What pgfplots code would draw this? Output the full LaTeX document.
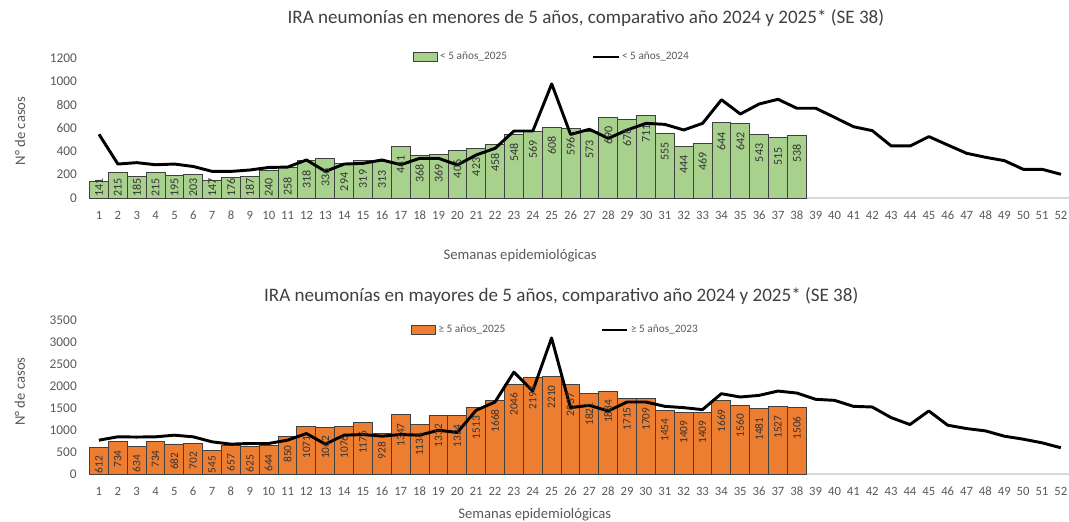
\documentclass[border=0pt]{standalone}
\usepackage{fontspec}
\setmainfont{Carlito}
\usepackage{pgfplots}
\pgfplotsset{compat=1.18}
\usepackage{pgfplotstable}

\definecolor{verde}{HTML}{A9D18E}
\definecolor{naranja}{HTML}{ED7D31}
\definecolor{texto}{HTML}{595959}
\definecolor{titulo}{HTML}{404040}
\definecolor{ejex}{HTML}{D9D9D9}

% < 5 años
\pgfplotstableread{
sem casos
1 141
2 215
3 185
4 215
5 195
6 203
7 147
8 176
9 187
10 240
11 258
12 318
13 336
14 294
15 319
16 313
17 441
18 368
19 369
20 406
21 423
22 458
23 548
24 569
25 608
26 596
27 573
28 690
29 676
30 711
31 555
32 444
33 469
34 644
35 642
36 543
37 515
38 538
}\menoresA

\pgfplotstableread{
sem casos
1 546
2 291
3 303
4 285
5 291
6 270
7 228
8 228
9 240
10 262
11 265
12 326
13 228
14 291
15 297
16 326
17 285
18 340
19 340
20 283
21 369
22 426
23 574
24 574
25 978
26 545
27 589
28 511
29 583
30 640
31 631
32 583
33 640
34 842
35 720
36 806
37 846
38 769
39 769
40 691
41 611
42 577
43 446
44 446
45 526
46 454
47 383
48 349
49 320
50 246
51 246
52 203
}\menoresB

% >= 5 años
\pgfplotstableread{
sem casos
1 612
2 734
3 634
4 734
5 682
6 702
7 545
8 657
9 625
10 644
11 850
12 1071
13 1062
14 1076
15 1176
16 928
17 1347
18 1134
19 1332
20 1324
21 1513
22 1668
23 2046
24 2194
25 2210
26 2037
27 1821
28 1884
29 1715
30 1709
31 1454
32 1409
33 1409
34 1669
35 1560
36 1481
37 1527
38 1506
}\mayoresA

\pgfplotstableread{
sem casos
1 769
2 845
3 840
4 845
5 882
6 845
7 731
8 679
9 694
10 694
11 769
12 920
13 679
14 882
15 897
16 860
17 897
18 882
19 995
20 943
21 1448
22 1636
23 2315
24 1885
25 3092
26 1508
27 1561
28 1433
29 1636
30 1636
31 1538
32 1508
33 1463
34 1825
35 1750
36 1787
37 1885
38 1840
39 1697
40 1674
41 1538
42 1523
43 1282
44 1124
45 1433
46 1109
47 1033
48 980
49 860
50 792
51 709
52 596
}\mayoresB

\pgfplotsset{
  semanas/.style={
    scale only axis,
    anchor=south west,
    xmin=0.5, xmax=52.5,
    ymin=0,
    xtick={1,...,52},
    axis x line*=bottom,
    axis y line*=left,
    x axis line style={draw=ejex, line width=0.8pt, -},
    y axis line style={draw=none},
    major tick length=0pt,
    /pgf/number format/assume math mode=true,
    /pgf/number format/1000 sep={},
    xticklabel style={font=\fontsize{9.5}{11}\selectfont, text=texto, anchor=base, yshift=-16pt},
    yticklabel style={font=\fontsize{10}{12}\selectfont, text=texto, xshift=-6pt},
    xlabel={Semanas epidemiológicas},
    ylabel={N° de casos},
    label style={font=\fontsize{11}{13}\selectfont, text=texto},
    title style={font=\fontsize{14.3}{17}\selectfont, text=titulo, anchor=center},
    legend cell align=left,
    legend columns=2,
    legend style={draw=none, fill=none, inner sep=0pt, anchor=west,
      font=\fontsize{8.5}{10}\selectfont, text=texto,
      nodes={inner sep=1.5pt}},
    clip=false,
  },
  barras/.style={
    ybar, bar width=1, draw=black!75, line width=0.7pt,
    nodes near coords,
    point meta=explicit symbolic,
    visualization depends on={y \as \rawy},
    legend image code/.code={\draw[##1] (0pt,-3.5pt) rectangle (18pt,3.5pt);},
  },
  linea/.style={
    black, line width=2.2pt, line join=round, mark=none,
    legend image code/.code={\draw[##1] (0pt,0pt) -- (19pt,0pt);},
  },
}

\begin{document}
\begin{tikzpicture}
\useasboundingbox (0,0) rectangle (801.75pt,390.75pt);

% Arriba: menores de 5 años
\begin{axis}[
  semanas,
  at={(67.2pt,242.25pt)},
  width=735.6pt, height=105pt,
  ymax=1200, ytick={0,200,...,1200},
  title={IRA neumonías en menores de 5 años, comparativo año 2024 y 2025* (SE 38)},
  title style={at={(axis description cs:0.506,1.229)}},
  xlabel style={at={(axis description cs:0.439,-0.41)}, anchor=center},
  ylabel style={at={(axis description cs:-0.071,0.479)}, anchor=center, rotate=0},
  legend style={at={(axis description cs:0.3297,1.007)},
    /tikz/every even column/.append style={column sep=62pt}},
]
\addplot[barras, fill=verde,
  nodes near coords style={font=\fontsize{9}{10}\selectfont, text=black!80, inner sep=0pt,
    yshift={max(-6.5,15-\rawy*0.0875)*1pt}, rotate=90, anchor=east}]
  table[x=sem, y=casos, meta=casos] {\menoresA};
\addlegendentry{< 5 años\_2025}
\addplot[linea] table[x=sem, y=casos] {\menoresB};
\addlegendentry{< 5 años\_2024}
\end{axis}

% Abajo: mayores de 5 años
\begin{axis}[
  semanas,
  at={(67.1pt,35.25pt)},
  width=735.6pt, height=115.5pt,
  ymax=3500, ytick={0,500,...,3500},
  title={IRA neumonías en mayores de 5 años, comparativo año 2024 y 2025* (SE 38)},
  title style={at={(axis description cs:0.481,1.104)}},
  xlabel style={at={(axis description cs:0.454,-0.262)}, anchor=center},
  ylabel style={at={(axis description cs:-0.0709,0.535)}, anchor=center, rotate=0},
  legend style={at={(axis description cs:0.328,0.935)},
    /tikz/every even column/.append style={column sep=70pt}},
]
\addplot[barras, fill=naranja,
  nodes near coords style={font=\fontsize{8.5}{10}\selectfont, text=black!80, inner sep=0pt,
    yshift={max(-6.2,14-\rawy*0.033)*1pt}, rotate=90, anchor=east}]
  table[x=sem, y=casos, meta=casos] {\mayoresA};
\addlegendentry{≥ 5 años\_2025}
\addplot[linea] table[x=sem, y=casos] {\mayoresB};
\addlegendentry{≥ 5 años\_2023}
\end{axis}
\end{tikzpicture}
\end{document}
